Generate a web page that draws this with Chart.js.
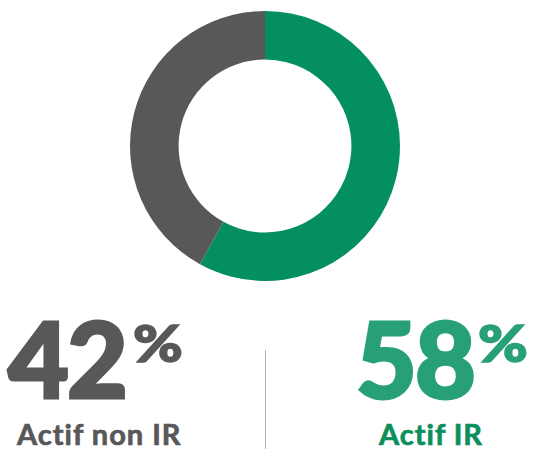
<!DOCTYPE html>
<html>
<head>
<meta charset="utf-8">
<script src="https://cdn.jsdelivr.net/npm/chart.js@4"></script>
<style>
  body { margin: 0; width: 533px; height: 449px; background: #fff; overflow: hidden; font-family: Lato, "Open Sans", sans-serif; position: relative; }
  #wrap { position: absolute; left: 0; top: 0; width: 533px; height: 292px; }
  .pct { position: absolute; top: 305px; font-weight: 900; font-size: 105px; line-height: 1; letter-spacing: -2px; -webkit-text-stroke: 3px currentColor; }
  .sign { position: absolute; top: 317px; font-weight: 900; font-size: 51px; line-height: 1; -webkit-text-stroke: 1.5px currentColor; transform: scaleX(1.18); transform-origin: left top; }
  .lbl { position: absolute; top: 419px; font-weight: 700; font-size: 29px; line-height: 1; letter-spacing: 1px; -webkit-text-stroke: 0.7px currentColor; }
  #sep { position: absolute; left: 265px; top: 350px; width: 1px; height: 99px; background: #b3b3b3; }
</style>
</head>
<body>
<div id="wrap"><canvas id="donut"></canvas></div>
<div class="pct" id="pct0" style="left:8px;color:#58585a"></div>
<div class="sign" style="left:133px;color:#58585a">%</div>
<div class="lbl" id="lbl0" style="left:17px;color:#58585a"></div>
<div id="sep"></div>
<div class="pct" id="pct1" style="left:356px;color:#27a077"></div>
<div class="sign" style="left:478px;color:#27a077">%</div>
<div class="lbl" id="lbl1" style="left:379px;color:#0b8f5c"></div>
<script>
// données
const labels = ["Actif IR", "Actif non IR"];
const values = [58, 42];
const colors = ["#03905e", "#58585a"];

// textes sous le graphique (non IR à gauche, IR à droite)
document.getElementById("pct0").textContent = values[1];
document.getElementById("lbl0").textContent = labels[1];
document.getElementById("pct1").textContent = values[0];
document.getElementById("lbl1").textContent = labels[0];

const config = {
  type: "doughnut",
  data: {
    labels,
    datasets: [{ data: values, backgroundColor: colors, borderWidth: 0 }],
  },
  options: {
    responsive: true,
    maintainAspectRatio: false,
    animation: false,
    cutout: "64%",
    layout: { padding: { left: 8, right: 11, top: 11, bottom: 11 } },
    plugins: { legend: { display: false }, tooltip: { enabled: false } },
  },
};

const canvas = document.getElementById("donut");
new Chart(canvas, config);
</script>
</body>
</html>
